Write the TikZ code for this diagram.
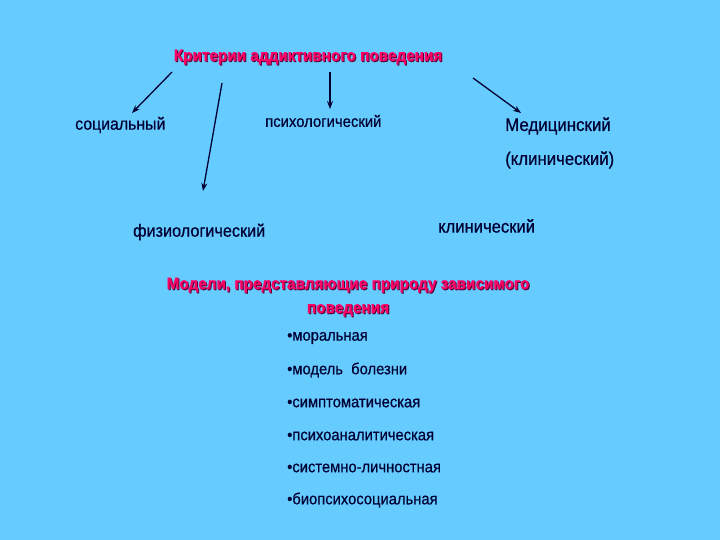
\documentclass[tikz,border=0pt]{standalone}
\usepackage{fontspec}
\usetikzlibrary{arrows.meta}
\setmainfont{Liberation Sans}
\newfontfamily\narrowfont[FakeStretch=0.92,FakeBold=0.6]{Liberation Sans}
\newfontfamily\narrowbold[FakeStretch=0.92,FakeBold=0.8,UprightFont=*,BoldFont=*]{Liberation Sans Bold}
\definecolor{bg}{HTML}{66CCFF}
\definecolor{ink}{HTML}{000033}
\definecolor{pink}{HTML}{FF0066}
\definecolor{shade}{HTML}{550033}
\begin{document}
\begin{tikzpicture}[x=1bp,y=-1bp,
  lbl/.style={text=ink,inner sep=0pt,anchor=west},
  ttl/.style={text=pink,inner sep=0pt,font=\narrowbold\fontsize{16.7}{24}\selectfont,align=center},
  ttlshadow/.style={text=shade,inner sep=0pt,font=\narrowbold\fontsize{16.7}{24}\selectfont,align=center},
  arr/.style={draw=ink,line width=1.3pt,-{Stealth[length=8pt,width=6pt]}},
  blt/.style={text=ink,inner sep=0pt,anchor=west,font=\narrowfont\fontsize{16.1}{18}\selectfont}]
\fill[bg] (0,0) rectangle (720,540);
\useasboundingbox (0,0) rectangle (720,540);
% title 1
\node[ttlshadow] at (309,58) {Критерии аддиктивного поведения};
\node[ttl] (t1) at (308,57) {Критерии аддиктивного поведения};
% labels
\node[lbl,font=\narrowfont\fontsize{17.3}{20}\selectfont] (soc) at (75,125) {социальный};
\node[lbl,font=\narrowfont\fontsize{16.2}{18}\selectfont] (psy) at (265,121) {психологический};
\node[lbl,font=\narrowfont\fontsize{18.4}{20}\selectfont] (med) at (505,126) {Медицинский};
\node[lbl,font=\narrowfont\fontsize{18.3}{20}\selectfont] (med2) at (505,160) {(клинический)};
\node[lbl,font=\narrowfont\fontsize{17.7}{20}\selectfont] (fiz) at (133,232) {физиологический};
\node[lbl,font=\narrowfont\fontsize{18.1}{20}\selectfont] (kl) at (438,226) {клинический};
% arrows
\coordinate (a1s) at (172,72); \coordinate (a1e) at (132,113);
\coordinate (a2s) at (222,83); \coordinate (a2e) at (203,191);
\coordinate (a3s) at (330,72); \coordinate (a3e) at (330,109);
\coordinate (a4s) at (473,78); \coordinate (a4e) at (521,113);
\draw[arr] (a1s) -- (a1e);
\draw[arr] (a2s) -- (a2e);
\draw[arr] (a3s) -- (a3e);
\draw[arr] (a4s) -- (a4e);
% title 2
\node[ttlshadow] at (349,298) {Модели, представляющие природу зависимого\\поведения};
\node[ttl] (t2) at (348,297) {Модели, представляющие природу зависимого\\поведения};
% bullets
\node[blt] (b1) at (287,338) {•моральная};
\node[blt] (b2) at (287,370) {•модель\ \ болезни};
\node[blt] (b3) at (287,403) {•симптоматическая};
\node[blt] (b4) at (287,436) {•психоаналитическая};
\node[blt] (b5) at (287,468) {•системно-личностная};
\node[blt] (b6) at (287,500) {•биопсихосоциальная};
\end{tikzpicture}
\end{document}
